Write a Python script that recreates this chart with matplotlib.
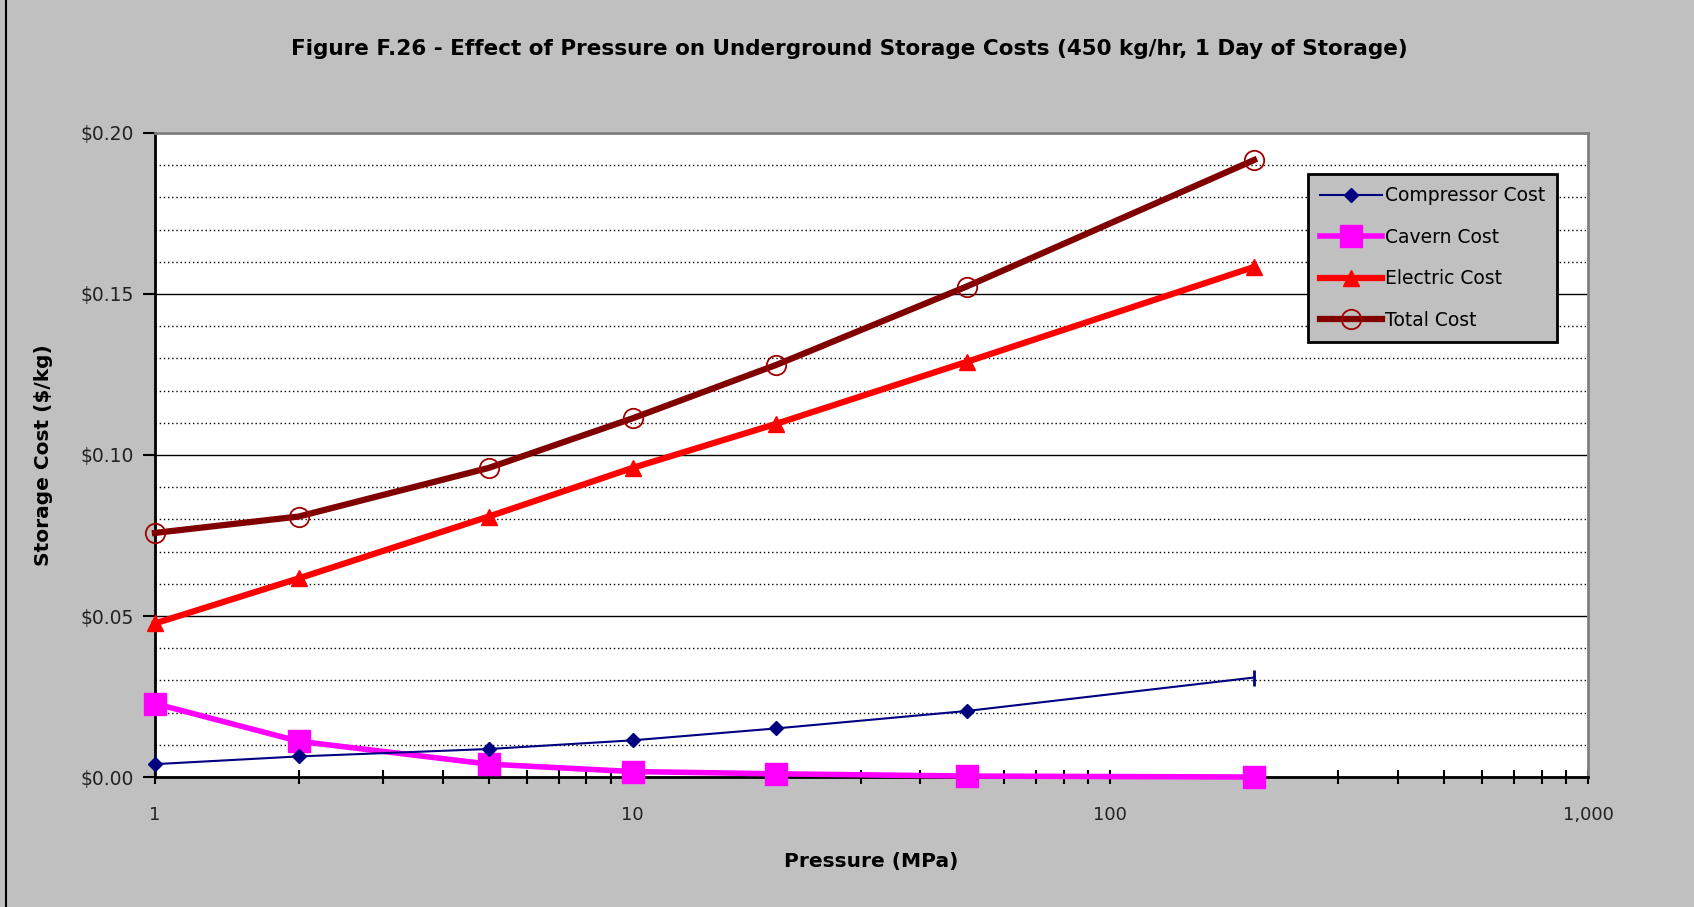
import matplotlib.pyplot as plt
from matplotlib.ticker import FixedLocator, FuncFormatter, MultipleLocator
from matplotlib.lines import Line2D

plt.rcParams['font.family'] = ['DejaVu Sans']

pressure = [1, 2, 5, 10, 20, 50, 200]
compressor = [0.0040, 0.0064, 0.0087, 0.0114, 0.0151, 0.0205, 0.0309]
cavern = [0.0228, 0.0111, 0.0040, 0.0017, 0.0010, 0.0003, 0.0000]
electric = [0.0477, 0.0617, 0.0809, 0.0960, 0.1097, 0.1289, 0.1584]
total = [0.0758, 0.0809, 0.0960, 0.1114, 0.1280, 0.1523, 0.1916]

bg = '#c0c0c0'
fig = plt.figure(figsize=(16.94, 9.07), dpi=100, facecolor=bg)
fig.lines.append(Line2D([0.0035, 0.0035], [0, 1], transform=fig.transFigure,
                        color='black', linewidth=1.5))
ax = fig.add_axes([0.0915, 0.1433, 0.8459, 0.7101])
ax.set_facecolor('white')

ax.plot(pressure, compressor, color='#000080', linewidth=1.5, marker='D',
        markersize=7, markevery=list(range(len(pressure) - 1)), label='Compressor Cost',
        zorder=4, clip_on=False)
ax.plot(pressure[-1:], compressor[-1:], color='#000080', marker='|', markersize=12,
        markeredgewidth=2, linestyle='none', zorder=4, clip_on=False)
ax.plot(pressure, cavern, color='#ff00ff', linewidth=4, marker='s',
        markersize=16, label='Cavern Cost', zorder=3, clip_on=False)
ax.plot(pressure, electric, color='#ff0000', linewidth=4.5, marker='^',
        markersize=11, label='Electric Cost', zorder=3, clip_on=False)
ax.plot(pressure, total, color='#800000', linewidth=4.5, marker='o', markersize=14,
        markerfacecolor='none', markeredgecolor='#a00000', markeredgewidth=1.3,
        label='Total Cost', zorder=3, clip_on=False)

ax.set_xscale('log')
ax.set_xlim(1, 1000)
ax.set_ylim(0, 0.20)
ax.xaxis.set_major_locator(FixedLocator([1, 10, 100, 1000]))
ax.xaxis.set_major_formatter(FuncFormatter(lambda v, p: '{:,.0f}'.format(v)))
ax.xaxis.set_minor_locator(FixedLocator([m * d for d in (1, 10, 100) for m in range(2, 10)]))
ax.xaxis.set_minor_formatter(FuncFormatter(lambda v, p: ''))
ax.yaxis.set_major_locator(MultipleLocator(0.05))
ax.yaxis.set_minor_locator(MultipleLocator(0.01))
ax.yaxis.set_major_formatter(FuncFormatter(lambda v, p: '${:.2f}'.format(v)))

ax.grid(True, axis='y', which='major', color='black', linewidth=1, linestyle='-')
ax.grid(True, axis='y', which='minor', color='black', linewidth=1, linestyle=(0, (1, 2)))
ax.set_axisbelow(True)

ax.tick_params(axis='x', which='both', direction='inout', length=10, width=1.5, pad=16,
               labelsize=13, colors='black', labelcolor='#222222')
ax.tick_params(axis='y', which='major', direction='out', length=9, width=1.5, pad=6,
               labelsize=13.5, labelcolor='#222222')
ax.tick_params(axis='y', which='minor', length=0)

for side in ('left', 'bottom'):
    ax.spines[side].set_color('black')
    ax.spines[side].set_linewidth(2)
for side in ('top', 'right'):
    ax.spines[side].set_color('#808080')
    ax.spines[side].set_linewidth(2)

ax.set_xlabel('Pressure (MPa)', fontsize=14.5, fontweight='bold', labelpad=20)
ax.set_ylabel('Storage Cost ($/kg)', fontsize=14.5, fontweight='bold', labelpad=20)
fig.suptitle('Figure F.26 - Effect of Pressure on Underground Storage Costs (450 kg/hr, 1 Day of Storage)',
             fontsize=15.5, fontweight='bold', y=0.946, x=0.5015, va='center')

leg = ax.legend(loc='upper left', bbox_to_anchor=(0.8046, 0.9363), frameon=True, fancybox=False,
                facecolor=bg, edgecolor='black', framealpha=1, fontsize=13.5,
                handlelength=3.3, handletextpad=0.15, labelspacing=1.2, borderpad=0.65,
                borderaxespad=0)
leg.get_frame().set_linewidth(2)

fig.savefig('out.png', dpi=100, facecolor=bg)
